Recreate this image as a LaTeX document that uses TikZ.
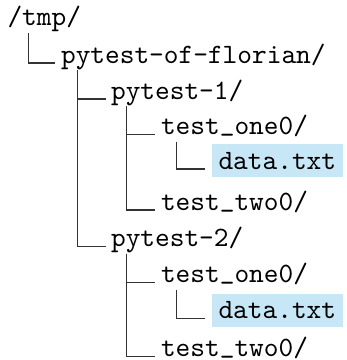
\documentclass[tikz,border=0pt]{standalone}
\usepackage{fontspec}
\usepackage[dvipsnames]{xcolor}
\newfontfamily\treefont{lmmono10-regular.otf}
\definecolor{hlblue}{RGB}{199,231,246}
\newcommand\usc{\raisebox{0.1em}{\_}}

\begin{document}
\begin{tikzpicture}[x=1pt,y=-1pt,line width=1.1pt,
    entry/.style={anchor=base west,inner sep=0pt,font=\treefont\fontsize{28}{34}\selectfont},
    hit/.style={entry,fill=hlblue,inner xsep=6.5pt,text height=25pt,text depth=8.3pt},
    link/.style={draw=black!80,to path={|- (\tikztotarget)}}]
            \useasboundingbox (0,0) rectangle (347,360);
            \node[entry] (tmp) at (7,25) {/tmp/};
            \node[entry] (pof) at (60.5,63) {pytest-of-florian/};
            \node[entry] (p1) at (110.5,99) {pytest-1/};
            \node[entry] (one1) at (160.5,134.5) {test\usc one0/};
            \node[hit] (data1) at (211.5,169) {data.txt};
            \node[entry] (two1) at (160.5,210) {test\usc two0/};
            \node[entry] (p2) at (110.5,246.5) {pytest-2/};
            \node[entry] (one2) at (160.5,282.5) {test\usc one0/};
            \node[hit] (data2) at (211.5,318.5) {data.txt};
            \node[entry] (two2) at (160.5,356.5) {test\usc two0/};

            \path[link]
                ([xshift=21.3pt,yshift=-8pt]tmp.base west) edge ([xshift=-5.5pt]pof.base west)
                ([xshift=17.2pt,yshift=-7pt]pof.base west) edge ([xshift=-4.5pt]p1.base west)
                ([xshift=17.2pt,yshift=-7pt]pof.base west) edge ([xshift=-4.5pt]p2.base west)
                ([xshift=16.2pt,yshift=-7pt]p1.base west) edge ([xshift=-5.5pt]one1.base west)
                ([xshift=16.2pt,yshift=-7pt]p1.base west) edge ([xshift=-5.5pt]two1.base west)
                ([xshift=16.2pt,yshift=-7pt]one1.base west) edge ([xshift=-6.5pt]data1.base west)
                ([xshift=16.2pt,yshift=-7pt]p2.base west) edge ([xshift=-5.5pt]one2.base west)
                ([xshift=16.2pt,yshift=-7pt]p2.base west) edge ([xshift=-5.5pt]two2.base west)
                ([xshift=16.2pt,yshift=-7pt]one2.base west) edge ([xshift=-6.5pt]data2.base west)
                ;
        \end{tikzpicture}
\end{document}
